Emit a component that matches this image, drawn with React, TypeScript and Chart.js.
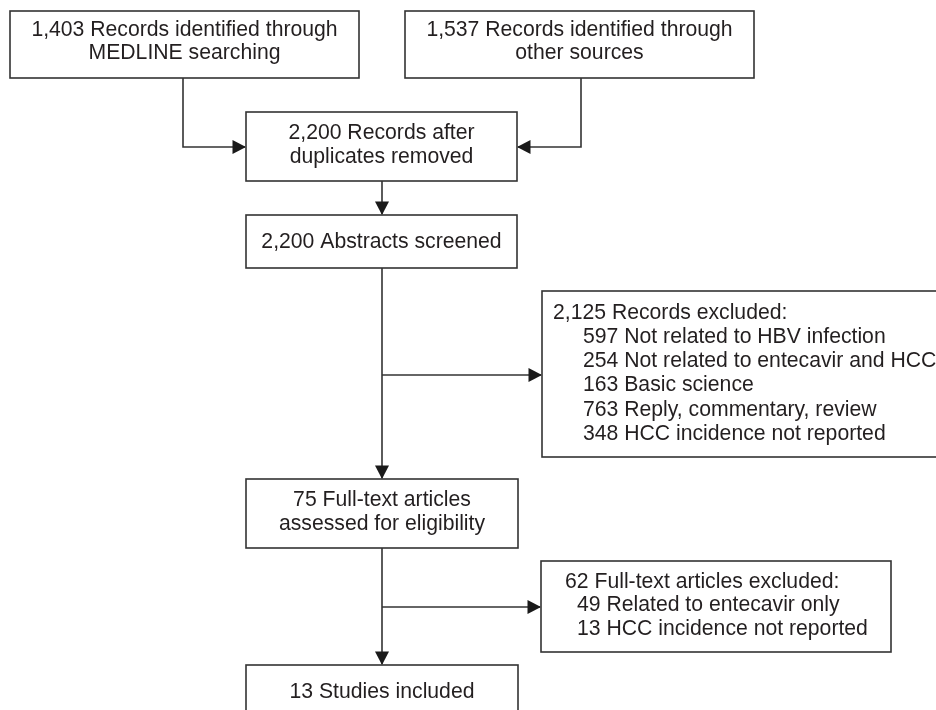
import React, { useEffect, useRef } from "react";
import { Chart, registerables } from "chart.js";

Chart.register(...registerables);

// ---- data (texts & counts of the flow diagram) ----
const identifiedLines: string[][] = [
  ["1,403 Records identified through", "MEDLINE searching"],
  ["1,537 Records identified through", "other sources"],
];
const mainStageLines: string[][] = [
  ["2,200 Records after", "duplicates removed"],
  ["2,200 Abstracts screened"],
  ["75 Full-text articles", "assessed for eligibility"],
  ["13 Studies included"],
];
const screenExcludedTitle = "2,125 Records excluded:";
const screenExcludedItems = [
  "597 Not related to HBV infection",
  "254 Not related to entecavir and HCC",
  "163 Basic science",
  "763 Reply, commentary, review",
  "348 HCC incidence not reported",
];
const fullTextExcludedTitle = "62 Full-text articles excluded:";
const fullTextExcludedItems = [
  "49 Related to entecavir only",
  "13 HCC incidence not reported",
];

// ---- layout (in scale units, 0..936 x 0..710) ----
const LAYOUT = {
  idBoxes: [
    { x0: 10, x1: 359, y0: 11, y1: 78, lineX: 183 },
    { x0: 405, x1: 754, y0: 11, y1: 78, lineX: 581 },
  ],
  mainBoxes: [
    { x0: 246, x1: 517, y0: 112, y1: 181, lines: [133, 157] },
    { x0: 246, x1: 517, y0: 215, y1: 268, lines: [242] },
    { x0: 246, x1: 518, y0: 479, y1: 548, lines: [500, 524] },
    { x0: 246, x1: 518, y0: 665, y1: 740, lines: [692] },
  ],
  mergeY: 147,
  spineX: 382,
  excl1: { x0: 542, x1: 980, y0: 291, y1: 457, arrowY: 375, titleX: 553, itemX: 583, firstY: 313, step: 24.2 },
  excl2: { x0: 541, x1: 891, y0: 561, y1: 652, arrowY: 607, titleX: 565, itemX: 577, firstY: 582, step: 23.5 },
};

const LINE_COLOR = "#333333";
const TEXT_COLOR = "#231f20";
const FONT = "21.2px 'Liberation Sans', Arial, Helvetica, sans-serif";

const flowPlugin = {
  id: "flowDiagram",
  afterDraw(chart: any) {
    const ctx: CanvasRenderingContext2D = chart.ctx;
    const xs = chart.scales.x;
    const ys = chart.scales.y;
    const X = (v: number) => xs.getPixelForValue(v);
    const Y = (v: number) => ys.getPixelForValue(v);

    ctx.save();
    ctx.fillStyle = "#ffffff";
    ctx.fillRect(0, 0, chart.width, chart.height);

    ctx.strokeStyle = LINE_COLOR;
    ctx.lineWidth = 1.6;
    ctx.font = FONT;
    ctx.textBaseline = "middle";

    const rect = (x0: number, y0: number, x1: number, y1: number) => {
      ctx.strokeRect(X(x0), Y(y0), X(x1) - X(x0), Y(y1) - Y(y0));
    };
    const poly = (pts: number[][]) => {
      ctx.beginPath();
      pts.forEach((p, i) => {
        if (i === 0) ctx.moveTo(X(p[0]), Y(p[1]));
        else ctx.lineTo(X(p[0]), Y(p[1]));
      });
      ctx.stroke();
    };
    const head = (x: number, y: number, dir: "r" | "l" | "d") => {
      const px = X(x), py = Y(y);
      const L = 13.5, W = 7;
      ctx.beginPath();
      ctx.moveTo(px, py);
      if (dir === "r") { ctx.lineTo(px - L, py - W); ctx.lineTo(px - L, py + W); }
      if (dir === "l") { ctx.lineTo(px + L, py - W); ctx.lineTo(px + L, py + W); }
      if (dir === "d") { ctx.lineTo(px - W, py - L); ctx.lineTo(px + W, py - L); }
      ctx.closePath();
      ctx.fillStyle = "#1a1a1a";
      ctx.fill();
    };
    const textC = (s: string, cx: number, cy: number) => {
      ctx.fillStyle = TEXT_COLOR;
      ctx.textAlign = "center";
      ctx.fillText(s, X(cx), Y(cy));
    };
    const textL = (s: string, lx: number, cy: number) => {
      ctx.fillStyle = TEXT_COLOR;
      ctx.textAlign = "left";
      ctx.fillText(s, X(lx), Y(cy));
    };

    const L = LAYOUT;
    const m = L.mainBoxes;

    // identification boxes
    L.idBoxes.forEach((b, i) => {
      rect(b.x0, b.y0, b.x1, b.y1);
      const cx = (b.x0 + b.x1) / 2;
      identifiedLines[i].forEach((s, k) => textC(s, cx, 30 + k * 23.5));
    });
    // connectors to merged box
    poly([[L.idBoxes[0].lineX, L.idBoxes[0].y1], [L.idBoxes[0].lineX, L.mergeY], [m[0].x0 - 1, L.mergeY]]);
    head(m[0].x0, L.mergeY, "r");
    poly([[L.idBoxes[1].lineX, L.idBoxes[1].y1], [L.idBoxes[1].lineX, L.mergeY], [m[0].x1 + 1, L.mergeY]]);
    head(m[0].x1, L.mergeY, "l");

    // main stage boxes
    m.forEach((b, i) => {
      rect(b.x0, b.y0, b.x1, b.y1);
      const cx = (b.x0 + b.x1) / 2;
      mainStageLines[i].forEach((s, k) => textC(s, cx, b.lines[k]));
    });

    // spine arrows
    poly([[L.spineX, m[0].y1], [L.spineX, m[1].y0 - 1]]);
    head(L.spineX, m[1].y0, "d");
    poly([[L.spineX, m[1].y1], [L.spineX, m[2].y0 - 1]]);
    head(L.spineX, m[2].y0, "d");
    poly([[L.spineX, m[2].y1], [L.spineX, m[3].y0 - 1]]);
    head(L.spineX, m[3].y0, "d");

    // exclusion boxes
    const e1 = L.excl1;
    poly([[L.spineX, e1.arrowY], [e1.x0 - 1, e1.arrowY]]);
    head(e1.x0, e1.arrowY, "r");
    rect(e1.x0, e1.y0, e1.x1, e1.y1);
    textL(screenExcludedTitle, e1.titleX, e1.firstY);
    screenExcludedItems.forEach((s, k) => textL(s, e1.itemX, e1.firstY + (k + 1) * e1.step));

    const e2 = L.excl2;
    poly([[L.spineX, e2.arrowY], [e2.x0 - 1, e2.arrowY]]);
    head(e2.x0, e2.arrowY, "r");
    rect(e2.x0, e2.y0, e2.x1, e2.y1);
    textL(fullTextExcludedTitle, e2.titleX, e2.firstY);
    fullTextExcludedItems.forEach((s, k) => textL(s, e2.itemX, e2.firstY + (k + 1) * e2.step));

    ctx.restore();
  },
};

export default function App() {
  const ref = useRef<HTMLCanvasElement | null>(null);
  useEffect(() => {
    document.body.style.margin = "0";
    const canvas = ref.current;
    if (!canvas) return;
    const chart = new Chart(canvas, {
      type: "scatter",
      data: { datasets: [{ data: [], pointRadius: 0 }] },
      options: {
        animation: false,
        responsive: false,
        devicePixelRatio: 1,
        layout: { padding: 0 },
        plugins: { legend: { display: false }, tooltip: { enabled: false }, title: { display: false } },
        scales: {
          x: { type: "linear", min: 0, max: 936, display: false },
          y: { type: "linear", min: 0, max: 710, reverse: true, display: false },
        },
      },
      plugins: [flowPlugin],
    });
    return () => chart.destroy();
  }, []);
  return (
    <div style={{ width: 936, height: 710, background: "#fff" }}>
      <canvas ref={ref} width={936} height={710} style={{ display: "block" }} />
    </div>
  );
}
